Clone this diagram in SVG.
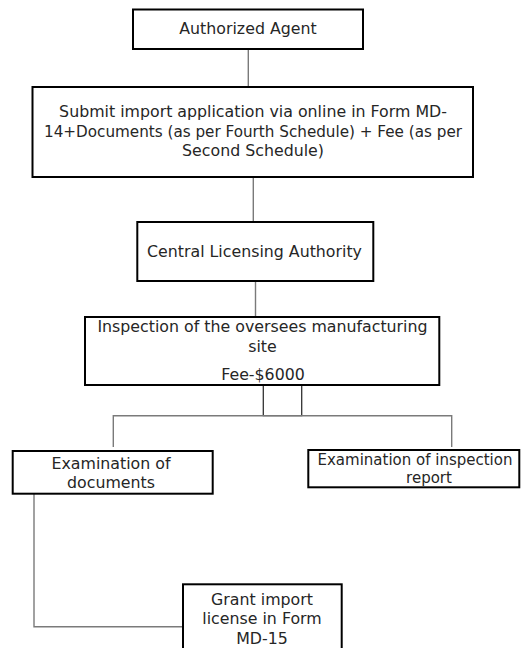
<svg xmlns="http://www.w3.org/2000/svg" width="523" height="648" viewBox="0 0 523 648">
<style>
.box{fill:#fff;stroke:#000;stroke-width:2}
.t{font-family:"DejaVu Sans","Liberation Sans",sans-serif;font-size:15.8px;fill:#262626;text-anchor:middle}
.s{font-size:15px}
.c{fill:none;stroke:#7a7a7a;stroke-width:1.4}
.d{fill:none;stroke:#333;stroke-width:1.3}
</style>
<rect width="523" height="648" fill="#fff"/>
<g id="connectors">
<line class="c" x1="248.3" y1="49" x2="248.3" y2="87"/>
<line class="c" x1="253.3" y1="177" x2="253.3" y2="222"/>
<line class="c" x1="255.5" y1="281" x2="255.5" y2="317"/>
<polyline class="d" points="263.3,385 263.3,415.7 301.7,415.7 301.7,385"/>
<polyline class="c" points="113.3,447 113.3,415.7 451.7,415.7 451.7,447"/>
<polyline class="c" points="34,494 34,626.7 183,626.7"/>
</g>
<g id="authorized-agent">
<rect class="box" x="133" y="9.5" width="230" height="39.5"/>
<text class="t" x="248" y="34">Authorized Agent</text>
</g>
<g id="submit-application">
<rect class="box" x="32.5" y="87" width="440.5" height="90"/>
<text class="t" x="253" y="117">Submit import application via online in Form MD-</text>
<text class="t" x="253" y="136.5" textLength="418" lengthAdjust="spacingAndGlyphs">14+Documents (as per Fourth Schedule) + Fee (as per</text>
<text class="t" x="253" y="156">Second Schedule)</text>
</g>
<g id="central-licensing-authority">
<rect class="box" x="137.3" y="222" width="236" height="59"/>
<text class="t" x="254.5" y="257">Central Licensing Authority</text>
</g>
<g id="inspection">
<rect class="box" x="85" y="317" width="354.3" height="68"/>
<text class="t" x="262.5" y="332">Inspection of the oversees manufacturing</text>
<text class="t" x="262.5" y="352">site</text>
<text class="t" x="263" y="380">Fee-$6000</text>
</g>
<g id="examination-documents">
<rect class="box" x="12.7" y="451" width="200" height="42.7"/>
<text class="t" x="111" y="468.5">Examination of</text>
<text class="t" x="111" y="487.5">documents</text>
</g>
<g id="examination-inspection-report">
<rect class="box" x="308.3" y="450" width="211" height="37.3"/>
<text class="t s" x="415" y="465">Examination of inspection</text>
<text class="t s" x="429" y="482.5">report</text>
</g>
<g id="grant-license">
<rect class="box" x="183" y="584.3" width="158.7" height="70"/>
<text class="t" x="262" y="605">Grant import</text>
<text class="t" x="262" y="624">license in Form</text>
<text class="t" x="262" y="643.5">MD-15</text>
</g>
</svg>
